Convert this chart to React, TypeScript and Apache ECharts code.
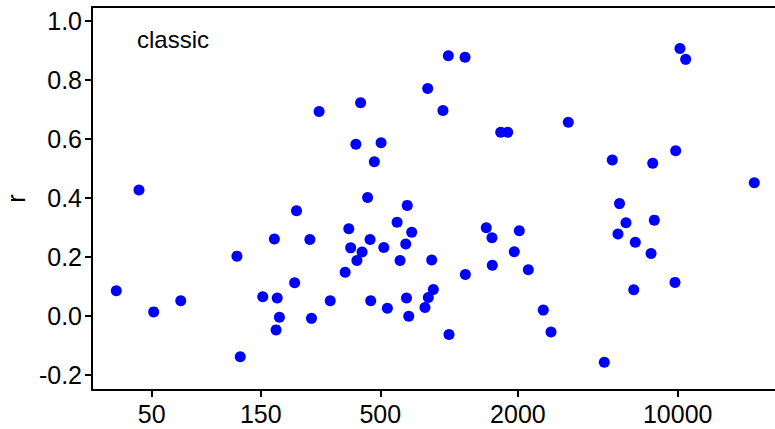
import React, { useEffect, useRef } from "react";
import * as echarts from "echarts";

// Sample size (log-scaled horizontally) and correlation r for each study
const sampleSizes = [
  35, 44, 51, 67, 118, 122, 153, 172, 177, 181, 175, 211, 215, 246, 250, 270,
  302, 351, 364, 371, 391, 395, 410, 416, 440, 451, 454, 471, 504, 518, 537,
  592, 610, 646, 651, 656, 666, 686, 784, 806, 811, 839, 853, 940, 992, 999,
  1174, 1178, 1454, 1540, 1545, 1682, 1804, 1928, 2028, 2221, 2582, 2790, 3322,
  4774, 5173, 5479, 5565, 5940, 6421, 6524, 7645, 7774, 7901, 9731, 9799, 10230,
  10837, 21627,
];
const rValues = [
  0.086, 0.427, 0.014, 0.052, 0.203, -0.138, 0.065, 0.261, 0.061, -0.004,
  -0.047, 0.113, 0.357, 0.259, -0.008, 0.693, 0.052, 0.148, 0.296, 0.231,
  0.582, 0.188, 0.723, 0.217, 0.402, 0.259, 0.052, 0.523, 0.587, 0.232, 0.026,
  0.318, 0.188, 0.244, 0.061, 0.375, -0.001, 0.284, 0.029, 0.771, 0.063, 0.19,
  0.09, 0.697, 0.882, -0.063, 0.877, 0.141, 0.299, 0.265, 0.172, 0.623, 0.623,
  0.218, 0.289, 0.157, 0.02, -0.054, 0.657, -0.157, 0.529, 0.278, 0.381, 0.316,
  0.089, 0.25, 0.212, 0.518, 0.325, 0.114, 0.56, 0.907, 0.87, 0.452,
];
const xTickLabels = [50, 150, 500, 2000, 10000];
const yTickLabels = [-0.2, 0, 0.2, 0.4, 0.6, 0.8, 1.0];
const panelLabel = "classic";

const FONT = "'Liberation Sans', Arial, Helvetica, sans-serif";

export default function App() {
  const ref = useRef<HTMLDivElement>(null);

  useEffect(() => {
    if (!ref.current) return;
    const chart = echarts.init(ref.current, null, { renderer: "svg" });

    const points = sampleSizes.map((n, i) => [Math.log10(n), rValues[i]]);
    const xTicks = xTickLabels.map((v) => Math.log10(v));
    const xMin = 1.4378;
    const xMax = 4.4256;
    const axisLine = {
      show: true,
      onZero: false,
      lineStyle: { color: "#000", width: 2 },
    };

    chart.setOption({
      animation: false,
      backgroundColor: "#fff",
      grid: {
        left: 92,
        right: 0,
        top: 7,
        bottom: 39,
        containLabel: false,
        outerBoundsMode: "none",
      },
      graphic: [
        {
          type: "text",
          left: 137,
          top: 27,
          style: { text: panelLabel, fontSize: 24, fontFamily: FONT, fill: "#000" },
        },
      ],
      xAxis: [
        {
          type: "value",
          min: xMin,
          max: xMax,
          axisLine,
          splitLine: { show: false },
          axisTick: {
            show: true,
            inside: false,
            length: 7,
            customValues: xTicks,
            lineStyle: { color: "#000", width: 2 },
          },
          axisLabel: {
            customValues: xTicks,
            margin: 11,
            fontSize: 25,
            fontFamily: FONT,
            color: "#000",
            formatter: (v: number) => String(Math.round(Math.pow(10, v))),
          },
        },
        {
          type: "value",
          position: "top",
          min: xMin,
          max: xMax,
          axisLine,
          axisTick: { show: false },
          axisLabel: { show: false },
          splitLine: { show: false },
        },
      ],
      yAxis: {
        type: "value",
        min: -0.2508,
        max: 1.0475,
        name: "r",
        nameLocation: "middle",
        nameRotate: 90,
        nameGap: 60,
        nameTextStyle: { fontSize: 25, fontFamily: FONT, color: "#000" },
        axisLine,
        splitLine: { show: false },
        axisTick: {
          show: true,
          inside: false,
          length: 7,
          customValues: yTickLabels,
          lineStyle: { color: "#000", width: 2 },
        },
        axisLabel: {
          customValues: yTickLabels,
          margin: 10,
          fontSize: 25,
          fontFamily: FONT,
          color: "#000",
          formatter: (v: number) => v.toFixed(1),
        },
      },
      series: [
        {
          type: "scatter",
          xAxisIndex: 0,
          data: points,
          symbol: "circle",
          symbolSize: 11,
          itemStyle: { color: "#0000ff", opacity: 1 },
        },
      ],
    });

    return () => chart.dispose();
  }, []);

  return (
    <div
      ref={ref}
      style={{ position: "absolute", left: 0, top: 0, width: 775, height: 429 }}
    />
  );
}
